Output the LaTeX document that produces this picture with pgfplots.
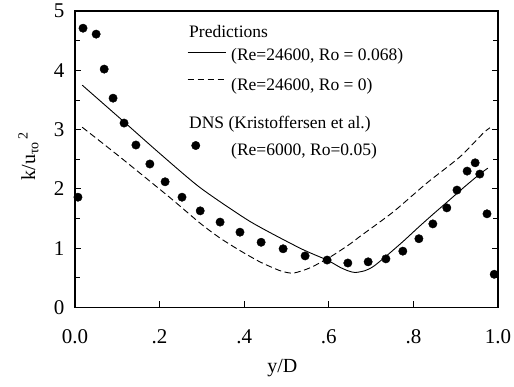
\documentclass[border=0pt]{standalone}
\usepackage{fontspec}
\setmainfont{Liberation Serif}
\usepackage{pgfplots}
\pgfplotsset{compat=1.18}
\pgfplotsset{
  lineimg/.style={legend image code/.code={\draw[##1] (0pt,0pt) -- (38pt,0pt);}},
  dotimg/.style={legend image code/.code={\draw[##1] plot coordinates {(8pt,0pt)};}},
}
\newcommand\rs[2]{\rule[-#1pt]{0pt}{\dimexpr #1pt + #2pt\relax}}
\begin{document}
\begin{tikzpicture}
\begin{axis}[
  scale only axis, width=423pt, height=296.5pt,
  xmin=0, xmax=1, ymin=0, ymax=5,
  xtick={0,0.2,0.4,0.6,0.8,1}, xticklabels={0.0,.2,.4,.6,.8,1.0},
  ytick={0,1,2,3,4,5}, yticklabels={0,1,2,3,4,5},
  minor ytick={0.5,1.5,2.5,3.5,4.5},
  xtick pos=bottom, ytick pos=both, yticklabel pos=left,
  tick align=inside, major tick length=6pt, minor tick length=5pt,
  axis line style={line width=1.1pt},
  tick style={line width=0.8pt, black},
  tick label style={font=\fontsize{21}{25}\selectfont},
  xticklabel style={yshift=-19pt},
  yticklabel style={xshift=-7pt},
  label style={font=\fontsize{20}{24}\selectfont},
  xlabel={y/D},
  ylabel={k/u\textsubscript{τo}\textsuperscript{\,2}},
  xlabel style={at={(axis description cs:0.49,-0.205)}, anchor=center},
  ylabel style={at={(axis description cs:-0.11,0.51)}, anchor=center},
  legend style={draw=none, fill=none, at={(axis description cs:0.265,0.966)},
    anchor=north west, inner sep=0pt, row sep=0pt,
    font=\fontsize{17.5}{20}\selectfont,
    /tikz/every odd column/.style={column sep=3pt}},
  legend cell align=left,
]
\addlegendimage{empty legend}
\addlegendentry{\hspace*{-42pt}\rs{6}{14}Predictions}
\addlegendimage{black, line width=0.9pt, lineimg}
\addlegendentry{\rs{6}{18}(Re=24600, Ro = 0.068)}
\addlegendimage{black, line width=0.9pt, dash pattern=on 6.5pt off 3.5pt, lineimg}
\addlegendentry{\rs{6}{24}(Re=24600, Ro = 0)}
\addlegendimage{empty legend}
\addlegendentry{\hspace*{-42pt}\rs{6}{33}DNS (Kristoffersen et al.)}
\addlegendimage{black, only marks, mark=*, mark size=4.2pt, dotimg}
\addlegendentry{\rs{6}{21}(Re=6000, Ro=0.05)}

% Prediction Ro = 0.068 (solid)
\addplot[black, line width=0.9pt, smooth, tension=0.4, forget plot] coordinates {
(0.017,3.75) (0.116,3.13) (0.2,2.60) (0.296,2.02) (0.414,1.45) (0.532,1.00)
(0.596,0.80) (0.626,0.68) (0.645,0.62) (0.662,0.59) (0.685,0.62) (0.705,0.69)
(0.733,0.85) (0.775,1.11) (0.813,1.36) (0.846,1.57) (0.88,1.78) (0.92,2.03)
(0.957,2.25) (0.976,2.35)
};
% Prediction Ro = 0 (dashed)
\addplot[black, line width=0.9pt, dash pattern=on 6.5pt off 3.5pt, smooth, tension=0.4, forget plot] coordinates {
(0.017,3.04) (0.106,2.54) (0.225,1.85) (0.296,1.42) (0.343,1.17) (0.39,0.96)
(0.437,0.77) (0.485,0.62) (0.516,0.58) (0.556,0.67) (0.603,0.85) (0.65,1.07)
(0.674,1.20) (0.752,1.61) (0.832,2.10) (0.910,2.54) (0.965,2.94) (0.981,3.03)
};
% DNS
\addplot[black, only marks, mark=*, mark size=4.2pt, forget plot] coordinates {
(0.007,1.86) (0.019,4.71) (0.050,4.61) (0.069,4.02) (0.090,3.53) (0.116,3.11)
(0.144,2.74) (0.177,2.42) (0.213,2.12) (0.253,1.86) (0.296,1.63) (0.343,1.44)
(0.390,1.27) (0.440,1.10) (0.492,0.99) (0.544,0.87) (0.596,0.80) (0.645,0.75)
(0.693,0.77) (0.735,0.82) (0.775,0.95) (0.813,1.16) (0.846,1.41) (0.879,1.68)
(0.903,1.98) (0.927,2.30) (0.946,2.44) (0.957,2.25) (0.974,1.58) (0.991,0.56)
};
\end{axis}
\pgfresetboundingbox
\path ([shift={(-75pt,-79.5pt)}]current axis.south west) rectangle ([shift={(16pt,11pt)}]current axis.north east);
\end{tikzpicture}
\end{document}
